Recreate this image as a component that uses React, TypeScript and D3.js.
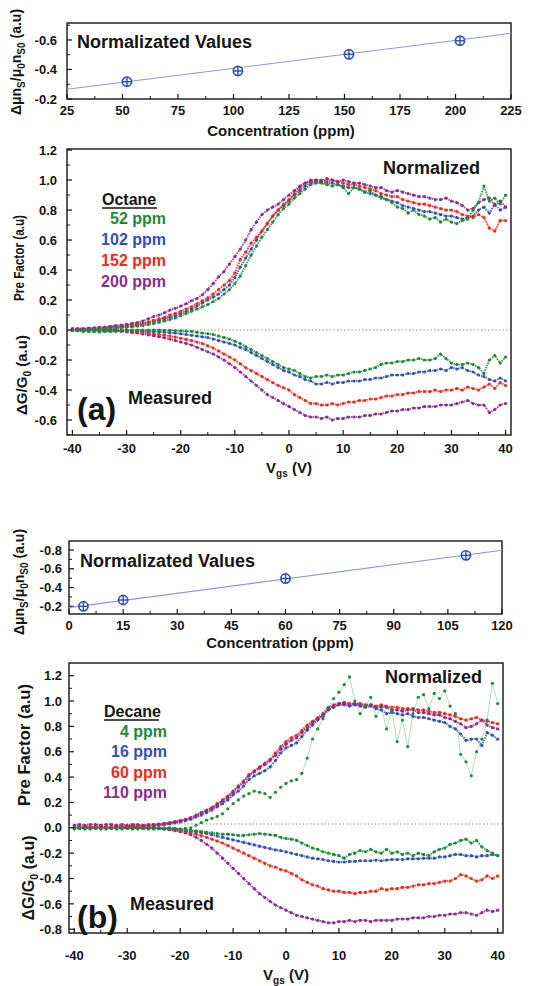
import React from "react";
import * as d3 from "d3";

const FONT = '"Liberation Sans", Arial, Helvetica, sans-serif';
const GREEN = "#1e8a3a";
const BLUE = "#3550b4";
const RED = "#f2291c";
const PURPLE = "#8b2c8f";
const INK = "#151515";
const MARK = "#3553b5";
const FIT = "#8c9bd8";

// ---------- shared gate-voltage grid (V) ----------
const vgs = [
  -40, -39, -38, -37, -36, -35, -34, -33, -32, -31,
  -30, -29, -28, -27, -26, -25, -24, -23, -22, -21,
  -20, -19, -18, -17, -16, -15, -14, -13, -12, -11,
  -10, -9, -8, -7, -6, -5, -4, -3, -2, -1,
  0, 1, 2, 3, 4, 5, 6, 7, 8, 9,
  10, 11, 12, 13, 14, 15, 16, 17, 18, 19,
  20, 21, 22, 23, 24, 25, 26, 27, 28, 29,
  30, 31, 32, 33, 34, 35, 36, 37, 38, 39,
  40,
];

// ---------- (a) Octane: inset ----------
const concA = [52, 102, 152, 202];
const normA = [-0.317, -0.39, -0.503, -0.595];
const fitAx = [25, 225];
const fitAy = [-0.266, -0.645];
const insetAxTicks = [25, 50, 75, 100, 125, 150, 175, 200, 225];
const insetAxMinor = [37.5, 62.5, 87.5, 112.5, 137.5, 162.5, 187.5, 212.5];
const insetAyTicks = [-0.2, -0.4, -0.6];
const insetAyMinor = [-0.3, -0.5, -0.7];

// ---------- (a) Octane: pre factor (normalized) ----------
const preA_52 = [
  -0.005, -0.005, 0.0, 0.0, 0.003, 0.005, 0.007, 0.01, 0.012, 0.015,
  0.018, 0.022, 0.026, 0.03, 0.037, 0.044, 0.052, 0.06, 0.07, 0.08,
  0.095, 0.11, 0.125, 0.14, 0.155, 0.17, 0.19, 0.21, 0.24, 0.27,
  0.31, 0.36, 0.43, 0.5, 0.56, 0.62, 0.67, 0.72, 0.77, 0.81,
  0.84, 0.88, 0.91, 0.94, 0.97, 0.98, 0.98, 0.97, 0.96, 0.97,
  0.95, 0.91, 0.95, 0.94, 0.92, 0.93, 0.9, 0.88, 0.87, 0.85,
  0.82, 0.81, 0.78, 0.8, 0.77, 0.76, 0.74, 0.75, 0.72, 0.74,
  0.72, 0.71, 0.73, 0.74, 0.8, 0.85, 0.96, 0.86, 0.88, 0.84,
  0.9,
];
const preA_102 = [
  0.0, 0.0, 0.003, 0.005, 0.007, 0.01, 0.012, 0.015, 0.018, 0.02,
  0.025, 0.03, 0.035, 0.04, 0.048, 0.055, 0.065, 0.075, 0.085, 0.095,
  0.11, 0.125, 0.14, 0.16, 0.18, 0.2, 0.22, 0.24, 0.27, 0.3,
  0.35, 0.42, 0.48, 0.54, 0.6, 0.66, 0.71, 0.76, 0.8, 0.83,
  0.86, 0.9, 0.93, 0.96, 0.98, 0.99, 0.99, 0.98, 0.98, 0.97,
  0.96, 0.95, 0.95, 0.94, 0.92, 0.91, 0.9, 0.89, 0.87, 0.86,
  0.85, 0.83, 0.82, 0.81, 0.8, 0.79, 0.79, 0.78, 0.77, 0.76,
  0.76, 0.75, 0.74, 0.75, 0.76, 0.8, 0.82, 0.78, 0.84, 0.8,
  0.82,
];
const preA_152 = [
  0.0, 0.005, 0.005, 0.008, 0.01, 0.012, 0.015, 0.018, 0.02, 0.025,
  0.03, 0.035, 0.04, 0.045, 0.055, 0.065, 0.075, 0.085, 0.1, 0.11,
  0.125, 0.14, 0.155, 0.175, 0.195, 0.215, 0.24, 0.27, 0.3, 0.33,
  0.38, 0.47, 0.52, 0.58, 0.62, 0.66, 0.71, 0.76, 0.8, 0.84,
  0.87, 0.91, 0.95, 0.98, 0.99, 1.0, 1.0, 0.99, 1.0, 0.99,
  0.98, 0.97, 0.97, 0.96, 0.95, 0.94, 0.93, 0.91, 0.9, 0.89,
  0.89, 0.87, 0.86, 0.85, 0.84, 0.84, 0.83, 0.82, 0.81, 0.8,
  0.8, 0.79, 0.77, 0.76, 0.75, 0.77, 0.75, 0.68, 0.66, 0.73,
  0.73,
];
const preA_200 = [
  0.01, 0.01, 0.01, 0.012, 0.015, 0.018, 0.02, 0.025, 0.03, 0.033,
  0.038, 0.045, 0.05, 0.06, 0.075, 0.09, 0.1, 0.115, 0.133, 0.145,
  0.16, 0.175, 0.195, 0.21, 0.235, 0.27, 0.31, 0.355, 0.39, 0.44,
  0.49, 0.54, 0.6, 0.67, 0.72, 0.77, 0.8, 0.82, 0.84, 0.87,
  0.9, 0.93, 0.96, 0.98, 1.0, 1.0, 0.99, 1.01, 1.0, 0.99,
  1.0, 0.99, 0.98, 0.98, 0.97, 0.96, 0.95, 0.95, 0.93, 0.92,
  0.93, 0.92, 0.91, 0.9, 0.89, 0.89, 0.88, 0.87, 0.87, 0.88,
  0.86, 0.85, 0.83, 0.8, 0.81, 0.85, 0.87, 0.88, 0.83, 0.86,
  0.82,
];

// ---------- (a) Octane: measured dG/G0 ----------
const gA_52 = [
  0.0, -0.005, -0.01, -0.01, -0.01, -0.012, -0.01, -0.01, -0.008, -0.005,
  -0.003, 0.0, 0.0, 0.0, 0.0, 0.0, 0.0, -0.002, -0.003, -0.004,
  -0.005, -0.008, -0.01, -0.015, -0.02, -0.025, -0.03, -0.04, -0.05, -0.06,
  -0.075, -0.09, -0.11, -0.13, -0.15, -0.17, -0.19, -0.21, -0.23, -0.25,
  -0.26, -0.27, -0.29, -0.31, -0.32, -0.31, -0.31, -0.3, -0.31, -0.3,
  -0.3, -0.29, -0.28, -0.28, -0.27, -0.26, -0.25, -0.23, -0.22, -0.22,
  -0.21, -0.21, -0.2, -0.2, -0.19, -0.2, -0.2, -0.19, -0.16, -0.19,
  -0.22, -0.23, -0.23, -0.22, -0.23, -0.25, -0.29, -0.2, -0.17, -0.22,
  -0.18,
];
const gA_102 = [
  0.005, 0.0, 0.0, 0.0, 0.0, 0.0, 0.0, 0.0, 0.0, -0.002,
  -0.003, -0.004, -0.005, -0.006, -0.008, -0.01, -0.012, -0.015, -0.018, -0.02,
  -0.025, -0.03, -0.035, -0.04, -0.045, -0.05, -0.06, -0.07, -0.08, -0.09,
  -0.1, -0.115, -0.13, -0.15, -0.17, -0.19, -0.21, -0.23, -0.25, -0.27,
  -0.28, -0.3, -0.31, -0.33, -0.34, -0.36, -0.36, -0.35, -0.36, -0.35,
  -0.35, -0.34, -0.34, -0.34, -0.33, -0.33, -0.32, -0.32, -0.31, -0.3,
  -0.3, -0.3, -0.29, -0.29, -0.28, -0.28, -0.27, -0.27, -0.26, -0.27,
  -0.25, -0.26, -0.25, -0.27, -0.28, -0.3, -0.31, -0.33, -0.34, -0.32,
  -0.34,
];
const gA_152 = [
  0.005, 0.005, 0.005, 0.0, 0.0, 0.0, 0.0, -0.002, -0.003, -0.005,
  -0.006, -0.008, -0.01, -0.015, -0.02, -0.025, -0.03, -0.035, -0.04, -0.047,
  -0.055, -0.062, -0.07, -0.08, -0.09, -0.105, -0.12, -0.14, -0.16, -0.18,
  -0.2, -0.225, -0.25, -0.27, -0.29, -0.31, -0.33, -0.35, -0.37, -0.385,
  -0.4, -0.43, -0.45, -0.47, -0.49, -0.49, -0.5, -0.5, -0.49, -0.5,
  -0.49, -0.48, -0.48, -0.47, -0.47, -0.46, -0.46, -0.45, -0.44, -0.44,
  -0.43, -0.43, -0.42, -0.42, -0.41, -0.41, -0.41, -0.4, -0.41, -0.4,
  -0.4, -0.39, -0.4, -0.38, -0.39, -0.4, -0.38, -0.36, -0.39, -0.35,
  -0.37,
];
const gA_200 = [
  0.0, 0.0, 0.0, 0.0, 0.0, -0.002, -0.003, -0.005, -0.007, -0.009,
  -0.012, -0.016, -0.02, -0.026, -0.032, -0.038, -0.045, -0.052, -0.06, -0.07,
  -0.08, -0.09, -0.1, -0.115, -0.13, -0.145, -0.16, -0.18, -0.2, -0.225,
  -0.25, -0.28, -0.31, -0.34, -0.37, -0.4, -0.43, -0.45, -0.47, -0.49,
  -0.51, -0.53, -0.55, -0.57, -0.58, -0.58, -0.59, -0.58, -0.6, -0.59,
  -0.59, -0.58, -0.58, -0.58, -0.57, -0.57, -0.56, -0.56, -0.55, -0.54,
  -0.54, -0.53, -0.53, -0.52, -0.52, -0.51, -0.51, -0.51, -0.5, -0.5,
  -0.5, -0.49, -0.48, -0.47, -0.49, -0.5, -0.5, -0.55, -0.53, -0.5,
  -0.49,
];

// ---------- (b) Decane: inset ----------
const concB = [4, 15, 60, 110];
const normB = [-0.2, -0.267, -0.496, -0.743];
const fitBx = [0, 120];
const fitBy = [-0.186, -0.797];
const insetBxTicks = [0, 15, 30, 45, 60, 75, 90, 105, 120];
const insetBxMinor = [7.5, 22.5, 37.5, 52.5, 67.5, 82.5, 97.5, 112.5];
const insetByTicks = [-0.2, -0.4, -0.6, -0.8];
const insetByMinor = [-0.3, -0.5, -0.7];

// ---------- (b) Decane: pre factor ----------
const preB_4 = [
  -0.01, -0.005, -0.01, -0.01, -0.005, -0.01, -0.01, -0.005, -0.01, -0.01,
  -0.005, -0.01, -0.01, -0.005, -0.01, -0.01, -0.005, -0.01, -0.01, -0.005,
  -0.01, -0.005, 0.0, 0.02, 0.04, 0.06, 0.075, 0.09, 0.11, 0.15,
  0.19, 0.22, 0.25, 0.27, 0.29, 0.28, 0.27, 0.24, 0.28, 0.32,
  0.35, 0.37, 0.38, 0.43, 0.55, 0.7, 0.78, 0.86, 0.95, 1.02,
  1.07, 1.13, 1.19, 1.0, 0.9, 0.96, 1.03, 0.88, 0.95, 0.78,
  0.92, 0.68, 0.85, 0.64, 0.9, 1.03, 1.05, 0.94, 1.06, 1.02,
  1.08, 0.96, 0.9, 0.58, 0.52, 0.41, 0.6, 0.7, 0.85, 1.14,
  0.98,
];
const preB_16 = [
  0.0, 0.005, 0.0, 0.005, 0.005, 0.0, 0.005, 0.005, 0.01, 0.005,
  0.01, 0.01, 0.01, 0.012, 0.012, 0.015, 0.02, 0.025, 0.03, 0.038,
  0.046, 0.055, 0.068, 0.085, 0.1, 0.12, 0.14, 0.165, 0.19, 0.22,
  0.26, 0.29, 0.33, 0.38, 0.41, 0.43, 0.45, 0.48, 0.53, 0.59,
  0.63, 0.65, 0.67, 0.72, 0.77, 0.81, 0.85, 0.88, 0.93, 0.95,
  0.97, 0.97, 0.96, 0.97, 0.96, 0.95, 0.96, 0.94, 0.93, 0.9,
  0.91, 0.9, 0.89, 0.9, 0.88, 0.87, 0.87, 0.86, 0.85, 0.84,
  0.83, 0.8, 0.78, 0.74, 0.69, 0.7, 0.7, 0.65, 0.75, 0.73,
  0.7,
];
const preB_60 = [
  0.0, 0.0, 0.005, 0.005, 0.005, 0.005, 0.005, 0.008, 0.01, 0.01,
  0.012, 0.012, 0.015, 0.015, 0.018, 0.02, 0.025, 0.03, 0.036, 0.045,
  0.055, 0.065, 0.08, 0.1, 0.12, 0.14, 0.16, 0.19, 0.22, 0.25,
  0.29, 0.33, 0.37, 0.42, 0.45, 0.48, 0.51, 0.54, 0.59, 0.64,
  0.68, 0.71, 0.73, 0.77, 0.81, 0.84, 0.87, 0.9, 0.95, 0.97,
  0.98, 0.99, 0.98, 0.98, 0.98, 0.97, 0.97, 0.96, 0.97, 0.96,
  0.95, 0.95, 0.94, 0.94, 0.94, 0.93, 0.93, 0.92, 0.91, 0.91,
  0.9, 0.89, 0.88, 0.86, 0.85, 0.86, 0.87, 0.85, 0.84, 0.83,
  0.82,
];
const preB_110 = [
  0.02, 0.025, 0.02, 0.025, 0.025, 0.02, 0.025, 0.025, 0.02, 0.025,
  0.02, 0.025, 0.025, 0.02, 0.025, 0.025, 0.03, 0.035, 0.04, 0.048,
  0.056, 0.065, 0.078, 0.095, 0.115, 0.135, 0.155, 0.18, 0.21, 0.24,
  0.28, 0.32, 0.36, 0.41, 0.44, 0.47, 0.5, 0.53, 0.57, 0.62,
  0.66, 0.69, 0.71, 0.75, 0.79, 0.83, 0.86, 0.89, 0.94, 0.96,
  0.98, 0.98, 0.97, 0.98, 0.97, 0.96, 0.97, 0.95, 0.96, 0.95,
  0.93, 0.93, 0.92, 0.93, 0.93, 0.91, 0.91, 0.9, 0.89, 0.89,
  0.87, 0.86, 0.84, 0.82, 0.79, 0.8, 0.82, 0.85, 0.81, 0.79,
  0.78,
];

// ---------- (b) Decane: measured dG/G0 ----------
const gB_4 = [
  0.0, 0.0, 0.005, 0.0, 0.0, 0.005, 0.0, 0.0, 0.0, 0.005,
  0.0, -0.005, 0.0, -0.005, -0.005, 0.0, -0.005, -0.005, 0.0, -0.005,
  -0.01, -0.015, -0.02, -0.025, -0.03, -0.035, -0.04, -0.045, -0.05, -0.05,
  -0.055, -0.06, -0.06, -0.055, -0.05, -0.045, -0.05, -0.055, -0.06, -0.075,
  -0.085, -0.09, -0.1, -0.12, -0.14, -0.16, -0.17, -0.19, -0.2, -0.21,
  -0.22, -0.24, -0.21, -0.2, -0.18, -0.19, -0.17, -0.19, -0.2, -0.17,
  -0.2, -0.19, -0.21, -0.2, -0.22, -0.2, -0.21, -0.22, -0.19, -0.17,
  -0.16, -0.13, -0.12, -0.1, -0.09, -0.12, -0.1, -0.15, -0.18, -0.2,
  -0.22,
];
const gB_16 = [
  0.0, 0.0, 0.0, 0.0, 0.0, 0.0, 0.0, 0.0, 0.0, 0.0,
  0.0, 0.0, 0.0, 0.0, 0.0, 0.0, 0.0, -0.003, -0.006, -0.01,
  -0.015, -0.02, -0.025, -0.03, -0.038, -0.045, -0.055, -0.065, -0.075, -0.085,
  -0.095, -0.105, -0.115, -0.125, -0.135, -0.145, -0.155, -0.165, -0.175, -0.18,
  -0.19, -0.2, -0.21, -0.22, -0.23, -0.24, -0.245, -0.25, -0.26, -0.265,
  -0.27, -0.27, -0.265, -0.265, -0.26, -0.26, -0.26, -0.255, -0.26, -0.255,
  -0.25, -0.25, -0.25, -0.245, -0.245, -0.245, -0.24, -0.24, -0.24, -0.23,
  -0.23, -0.22, -0.21, -0.21, -0.22, -0.22, -0.23, -0.22, -0.22, -0.21,
  -0.22,
];
const gB_60 = [
  0.0, -0.005, 0.0, 0.0, -0.005, 0.0, 0.0, -0.005, 0.0, 0.0,
  -0.005, 0.0, 0.0, -0.005, 0.0, 0.0, -0.003, -0.005, -0.01, -0.015,
  -0.022, -0.03, -0.04, -0.05, -0.062, -0.075, -0.09, -0.105, -0.12, -0.14,
  -0.16, -0.18, -0.2, -0.22, -0.24, -0.26, -0.28, -0.3, -0.31, -0.33,
  -0.34, -0.36, -0.38, -0.41, -0.43, -0.45, -0.46, -0.48, -0.49, -0.5,
  -0.5, -0.51, -0.51, -0.52, -0.51, -0.51, -0.5, -0.5, -0.48, -0.49,
  -0.48, -0.48, -0.47, -0.47, -0.46, -0.45, -0.45, -0.44, -0.44, -0.43,
  -0.42, -0.42, -0.4, -0.37, -0.38, -0.4, -0.42, -0.41, -0.38, -0.4,
  -0.38,
];
const gB_110 = [
  0.005, 0.005, 0.0, 0.005, 0.0, 0.005, 0.0, 0.0, 0.005, 0.0,
  0.0, 0.0, 0.0, 0.0, 0.0, -0.003, -0.006, -0.01, -0.015, -0.022,
  -0.03, -0.04, -0.055, -0.075, -0.1, -0.13, -0.16, -0.2, -0.24, -0.28,
  -0.32, -0.36, -0.4, -0.44, -0.48, -0.52, -0.55, -0.58, -0.61, -0.63,
  -0.65, -0.67, -0.69, -0.7, -0.71, -0.72, -0.73, -0.74, -0.75, -0.75,
  -0.74, -0.74, -0.73, -0.74, -0.73, -0.73, -0.74, -0.73, -0.73, -0.73,
  -0.73, -0.72, -0.72, -0.72, -0.71, -0.71, -0.71, -0.7, -0.7, -0.69,
  -0.69, -0.68, -0.68, -0.67, -0.67, -0.68, -0.69, -0.67, -0.65, -0.66,
  -0.65,
];

// ---------- main-axis ticks ----------
const mainXTicks = [-40, -30, -20, -10, 0, 10, 20, 30, 40];
const mainXMinor = [-35, -25, -15, -5, 5, 15, 25, 35];
const mainAyTicks = [-0.6, -0.4, -0.2, 0, 0.2, 0.4, 0.6, 0.8, 1.0, 1.2];
const mainAyMinor = [-0.7, -0.5, -0.3, -0.1, 0.1, 0.3, 0.5, 0.7, 0.9, 1.1];
const mainByTicks = [-0.8, -0.6, -0.4, -0.2, 0, 0.2, 0.4, 0.6, 0.8, 1.0, 1.2];
const mainByMinor = [-0.7, -0.5, -0.3, -0.1, 0.1, 0.3, 0.5, 0.7, 0.9, 1.1];

const legendA = ["52 ppm", "102 ppm", "152 ppm", "200 ppm"];
const legendB = ["4 ppm", "16 ppm", "60 ppm", "110 ppm"];
const colors = [GREEN, BLUE, RED, PURPLE];

type Lin = d3.ScaleLinear<number, number>;

function Frame(props: {
  x: Lin; y: Lin;
  xTicks: number[]; xMinor: number[]; yTicks: number[]; yMinor: number[];
  xLabelBase: number; yLabelRight: number; fmtX: (v: number) => string; fmtY: (v: number) => string;
}) {
  const { x, y, xTicks, xMinor, yTicks, yMinor, xLabelBase, yLabelRight, fmtX, fmtY } = props;
  const [x0, x1] = x.range();
  const [yb, yt] = y.range();
  const maj = 5, min = 3;
  return (
    <g>
      {xTicks.map((t, i) => (
        <line key={"xt" + i} x1={x(t)} x2={x(t)} y1={yb} y2={yb - maj} stroke={INK} strokeWidth={1.2} />
      ))}
      {xMinor.map((t, i) => (
        <line key={"xm" + i} x1={x(t)} x2={x(t)} y1={yb} y2={yb - min} stroke={INK} strokeWidth={1} />
      ))}
      {yTicks.map((t, i) => (
        <line key={"yt" + i} x1={x0} x2={x0 + maj} y1={y(t)} y2={y(t)} stroke={INK} strokeWidth={1.2} />
      ))}
      {yMinor.map((t, i) => (
        <line key={"ym" + i} x1={x0} x2={x0 + min} y1={y(t)} y2={y(t)} stroke={INK} strokeWidth={1} />
      ))}
      <rect x={x0} y={yt} width={x1 - x0} height={yb - yt} fill="none" stroke={INK} strokeWidth={1.4} />
      {xTicks.map((t, i) => (
        <text key={"xl" + i} x={x(t)} y={xLabelBase} textAnchor="middle" fontSize={13} fontWeight="bold" fill={INK}>
          {fmtX(t)}
        </text>
      ))}
      {yTicks.map((t, i) => (
        <text key={"yl" + i} x={yLabelRight} y={y(t)} dy="0.36em" textAnchor="end" fontSize={13} fontWeight="bold" fill={INK}>
          {fmtY(t)}
        </text>
      ))}
    </g>
  );
}

function Trace(props: { xs: number[]; ys: number[]; x: Lin; y: Lin; color: string; lw?: number; lo?: number; r?: number }) {
  const { xs, ys, x, y, color, lw = 2, lo = 0.8, r = 1.6 } = props;
  const line = d3.line<number>().x((_, i) => x(xs[i])).y((d) => y(d));
  return (
    <g>
      <path d={line(ys) || ""} fill="none" stroke={color} strokeWidth={lw} strokeOpacity={lo} strokeDasharray={lw >= 1.5 ? "1.6,0.9" : undefined} />
      {ys.map((v, i) => (
        <circle key={i} cx={x(xs[i])} cy={y(v)} r={r} fill={color} />
      ))}
    </g>
  );
}

const fmtInt = (v: number) => String(v);
const fmt1 = (v: number) => (Math.abs(v) < 1e-9 ? "0.0" : v.toFixed(1));

function Inset(props: {
  x: Lin; y: Lin; xTicks: number[]; xMinor: number[]; yTicks: number[]; yMinor: number[];
  conc: number[]; norm: number[]; fx: number[]; fy: number[];
  xLabelBase: number; yLabelRight: number;
  titleX: number; titleY: number;
  ylabX: number; ylabY: number;
  xtitleX: number; xtitleY: number;
}) {
  const p = props;
  return (
    <g>
      <Frame x={p.x} y={p.y} xTicks={p.xTicks} xMinor={p.xMinor} yTicks={p.yTicks} yMinor={p.yMinor}
        xLabelBase={p.xLabelBase} yLabelRight={p.yLabelRight} fmtX={fmtInt} fmtY={fmt1} />
      <line x1={p.x(p.fx[0])} y1={p.y(p.fy[0])} x2={p.x(p.fx[1])} y2={p.y(p.fy[1])} stroke={FIT} strokeWidth={1.1} />
      {p.conc.map((c, i) => {
        const cx = p.x(c), cy = p.y(p.norm[i]);
        return (
          <g key={i}>
            <circle cx={cx} cy={cy} r={4.6} fill="#fff" stroke={MARK} strokeWidth={1.7} />
            <line x1={cx - 4.6} x2={cx + 4.6} y1={cy} y2={cy} stroke={MARK} strokeWidth={1.5} />
            <line x1={cx} x2={cx} y1={cy - 4.6} y2={cy + 4.6} stroke={MARK} strokeWidth={1.5} />
          </g>
        );
      })}
      <text x={p.titleX} y={p.titleY} fontSize={18} fontWeight="bold" fill={INK}>Normalizated Values</text>
      <text x={p.xtitleX} y={p.xtitleY} textAnchor="middle" fontSize={15} fontWeight="bold" fill={INK}>Concentration (ppm)</text>
      <text transform={`translate(${p.ylabX},${p.ylabY}) rotate(-90)`} textAnchor="middle" fontSize={14} fontWeight="bold" fill={INK}>
        Δμn<tspan dy={3.5} fontSize={10}>S</tspan>
        <tspan dy={-3.5}>/μ</tspan>
        <tspan dy={3.5} fontSize={10}>0</tspan>
        <tspan dy={-3.5}>n</tspan>
        <tspan dy={3.5} fontSize={10}>S0</tspan>
        <tspan dy={-3.5}> (a.u)</tspan>
      </text>
    </g>
  );
}

function Main(props: {
  x: Lin; y: Lin; yTicks: number[]; yMinor: number[]; xLabelBase: number; yLabelRight: number;
  pre: number[][]; meas: number[][]; dotted: number; lws?: number[];
  legendTitle: string; legend: string[];
  lgX: number; lgTitleY: number; lgRight: number; lgYs: number[];
  normX: number; normY: number;
  tagText: string; tagX: number; tagY: number; measX: number; measY: number;
  pfX: number; pfY: number; pfSize: number; pfLen: number;
  dgX: number; dgY: number; dgSize: number;
  vX: number; vY: number;
}) {
  const p = props;
  const [x0, x1] = p.x.range();
  const order = [3, 2, 1, 0];
  const preOrder = [1, 2, 3, 0];
  return (
    <g>
      <line x1={x0} x2={x1} y1={p.y(p.dotted)} y2={p.y(p.dotted)} stroke="#808080" strokeWidth={1} strokeDasharray="1.3,2.3" />
      {order.map((k) => (
        <Trace key={"m" + k} xs={vgs} ys={p.meas[k]} x={p.x} y={p.y} color={colors[k]} />
      ))}
      {preOrder.map((k) => (
        <Trace key={"p" + k} xs={vgs} ys={p.pre[k]} x={p.x} y={p.y} color={colors[k]}
          lw={p.lws ? p.lws[k] : 2} lo={p.lws && p.lws[k] < 1 ? 0.4 : 0.8} />
      ))}
      <Frame x={p.x} y={p.y} xTicks={mainXTicks} xMinor={mainXMinor} yTicks={p.yTicks} yMinor={p.yMinor}
        xLabelBase={p.xLabelBase} yLabelRight={p.yLabelRight} fmtX={fmtInt} fmtY={fmt1} />
      <text x={p.normX} y={p.normY} fontSize={18} fontWeight="bold" fill={INK}>Normalized</text>
      <text x={p.lgX} y={p.lgTitleY} fontSize={16} fontWeight="bold" fill={INK}>{p.legendTitle}</text>
      <line x1={p.lgX} x2={p.lgX + 55} y1={p.lgTitleY + 3} y2={p.lgTitleY + 3} stroke={INK} strokeWidth={1.5} />
      {p.legend.map((s, i) => (
        <text key={s} x={p.lgRight} y={p.lgYs[i]} textAnchor="end" fontSize={16} fontWeight="bold" fill={colors[i]}>{s}</text>
      ))}
      <text x={p.tagX} y={p.tagY} fontSize={32} fontWeight="bold" fill={INK}>{p.tagText}</text>
      <text x={p.measX} y={p.measY} fontSize={18} fontWeight="bold" fill={INK}>Measured</text>
      <text transform={`translate(${p.pfX},${p.pfY}) rotate(-90)`} textAnchor="middle" fontSize={p.pfSize}
        fontWeight="bold" fill={INK} textLength={p.pfLen} lengthAdjust="spacingAndGlyphs">Pre Factor (a.u)</text>
      <text transform={`translate(${p.dgX},${p.dgY}) rotate(-90)`} textAnchor="middle" fontSize={p.dgSize} fontWeight="bold" fill={INK}>
        ΔG/G<tspan dy={4} fontSize={p.dgSize * 0.68}>0</tspan>
        <tspan dy={-4}> (a.u)</tspan>
      </text>
      <text x={p.vX} y={p.vY} textAnchor="middle" fontSize={15} fontWeight="bold" fill={INK}>
        V<tspan dy={4} fontSize={10}>gs</tspan>
        <tspan dy={-4}> (V)</tspan>
      </text>
    </g>
  );
}

export default function App() {
  const xIA = d3.scaleLinear().domain([25, 225]).range([67, 511]);
  const yIA = d3.scaleLinear().domain([-0.2, -0.715]).range([99, 23]);
  const xMA = d3.scaleLinear().domain([-41, 41]).range([67, 511]);
  const yMA = d3.scaleLinear().domain([-0.7, 1.207]).range([435, 149]);

  const xIB = d3.scaleLinear().domain([0, 120]).range([69, 502]);
  const yIB = d3.scaleLinear().domain([-0.118, -0.896]).range([614, 541]);
  const xMB = d3.scaleLinear().domain([-41, 41]).range([69, 503]);
  const yMB = d3.scaleLinear().domain([-0.83, 1.3]).range([933, 663]);

  return (
    <svg width={545} height={986} viewBox="0 0 545 986"
      style={{ position: "absolute", left: 0, top: 0, background: "#fff" }} fontFamily={FONT}>
      <rect x={0} y={0} width={545} height={986} fill="#fff" />
      <Inset x={xIA} y={yIA} xTicks={insetAxTicks} xMinor={insetAxMinor} yTicks={insetAyTicks} yMinor={insetAyMinor}
        conc={concA} norm={normA} fx={fitAx} fy={fitAy} xLabelBase={115} yLabelRight={57}
        titleX={77} titleY={48} ylabX={21} ylabY={62} xtitleX={281} xtitleY={136} />
      <Main x={xMA} y={yMA} yTicks={mainAyTicks} yMinor={mainAyMinor} xLabelBase={453} yLabelRight={57}
        pre={[preA_52, preA_102, preA_152, preA_200]} meas={[gA_52, gA_102, gA_152, gA_200]} dotted={0}
        legendTitle="Octane" legend={legendA} lgX={102} lgTitleY={205} lgRight={166} lgYs={[224, 245, 266, 287]}
        normX={383} normY={174} tagText="(a)" tagX={77} tagY={420} measX={128} measY={404}
        pfX={24} pfY={258} pfSize={14} pfLen={86} dgX={27} dgY={375} dgSize={15}
        vX={289} vY={473} />
      <Inset x={xIB} y={yIB} xTicks={insetBxTicks} xMinor={insetBxMinor} yTicks={insetByTicks} yMinor={insetByMinor}
        conc={concB} norm={normB} fx={fitBx} fy={fitBy} xLabelBase={630} yLabelRight={62}
        titleX={80} titleY={567} ylabX={24} ylabY={582} xtitleX={280} xtitleY={648} />
      <Main x={xMB} y={yMB} yTicks={mainByTicks} yMinor={mainByMinor} xLabelBase={960} yLabelRight={62}
        pre={[preB_4, preB_16, preB_60, preB_110]} meas={[gB_4, gB_16, gB_60, gB_110]} dotted={0.03}
        lws={[0.8, 2, 2, 2]}
        legendTitle="Decane" legend={legendB} lgX={104} lgTitleY={717} lgRight={167} lgYs={[737, 757, 778, 798]}
        normX={385} normY={683} tagText="(b)" tagX={77} tagY={928} measX={130} measY={910}
        pfX={30} pfY={745} pfSize={16.5} pfLen={122} dgX={34} dgY={878} dgSize={16}
        vX={286} vY={980} />
    </svg>
  );
}
